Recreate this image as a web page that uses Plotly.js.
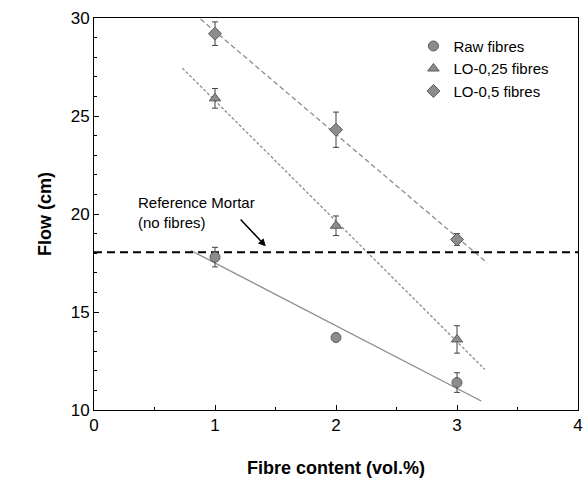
<!DOCTYPE html><html><head><script src="https://cdn.plot.ly/plotly-2.35.2.min.js"></script></head><body style="margin:0">
<div id="c" style="width:584px;height:479px"></div>
<script>
const fibre = [1, 2, 3];
const rawFlow = [17.8, 13.7, 11.4];
const rawErr = [0.5, 0.2, 0.5];
const lo25Flow = [25.9, 19.4, 13.6];
const lo25Err = [0.5, 0.5, 0.7];
const lo5Flow = [29.2, 24.3, 18.7];
const lo5Err = [0.6, 0.9, 0.3];
const refMortar = 18.05;
const fitRanges = {raw: [0.8, 3.2], lo25: [0.73, 3.23], lo5: [0.83, 3.25]};

function fit(x, y, r) {
  const n = x.length, mx = x.reduce((a,b)=>a+b)/n, my = y.reduce((a,b)=>a+b)/n;
  let sxy = 0, sxx = 0;
  for (let i=0;i<n;i++){sxy+=(x[i]-mx)*(y[i]-my);sxx+=(x[i]-mx)**2;}
  const s = sxy/sxx;
  return {x: r, y: r.map(v => my + s*(v-mx))};
}
const mk = (sym) => ({symbol: sym, size: 10, color: '#8c8c8c', line: {color: '#5a5a5a', width: 1}});
const eb = (a) => ({type: 'data', array: a, color: '#404040', thickness: 1, width: 3});
const fr = fit(fibre, rawFlow, fitRanges.raw), f25 = fit(fibre, lo25Flow, fitRanges.lo25), f5 = fit(fibre, lo5Flow, fitRanges.lo5);
const data = [
  {x: fr.x, y: fr.y, mode: 'lines', line: {color: '#8c8c8c', width: 1.3}, showlegend: false},
  {x: f25.x, y: f25.y, mode: 'lines', line: {color: '#8c8c8c', width: 1.3, dash: '3px,2px'}, showlegend: false},
  {x: f5.x, y: f5.y, mode: 'lines', line: {color: '#8c8c8c', width: 1.3, dash: '5px,3px'}, showlegend: false},
  {x: [0, 4], y: [refMortar, refMortar], mode: 'lines', line: {color: '#000', width: 2, dash: '8px,5px'}, showlegend: false},
  {x: fibre, y: rawFlow, mode: 'markers', name: 'Raw fibres', marker: mk('circle'), error_y: eb(rawErr)},
  {x: fibre, y: lo25Flow, mode: 'markers', name: 'LO-0,25 fibres', marker: mk('triangle-up'), error_y: eb(lo25Err)},
  {x: fibre, y: lo5Flow, mode: 'markers', name: 'LO-0,5 fibres', marker: mk('diamond'), error_y: eb(lo5Err)}
];
const ax = {showline: true, linecolor: '#000', linewidth: 1, mirror: true, ticks: 'inside', ticklen: 5, tickcolor: '#000', showgrid: false, zeroline: false, tickfont: {size: 17, color: '#000'}};
const layout = {
  margin: {l: 94, r: 6, t: 18, b: 69},
  paper_bgcolor: '#fff', plot_bgcolor: '#fff',
  font: {family: 'Liberation Sans, Arial, sans-serif', color: '#000'},
  xaxis: Object.assign({}, ax, {range: [0, 4], dtick: 1, minor: {ticks: 'inside', ticklen: 3, tickcolor: '#000', dtick: 0.5}, title: {text: '<b>Fibre content (vol.%)</b>', font: {size: 18}, standoff: 26}}),
  yaxis: Object.assign({}, ax, {range: [10, 30], dtick: 5, minor: {ticks: 'inside', ticklen: 3, tickcolor: '#000', dtick: 1}, title: {text: '<b>Flow (cm)</b>', font: {size: 18}, standoff: 14}}),
  legend: {x: 0.66, y: 0.97, xanchor: 'left', yanchor: 'top', font: {size: 15}, bgcolor: 'rgba(0,0,0,0)', itemwidth: 20, tracegroupgap: 4},
  annotations: [
    {x: 1.42, y: 18.35, ax: 1.2, ay: 19.8, axref: 'x', ayref: 'y', showarrow: true, arrowhead: 2, arrowsize: 1, arrowwidth: 1.5, arrowcolor: '#000', text: ''},
    {x: 0.35, y: 21.1, xanchor: 'left', yanchor: 'top', showarrow: false, align: 'left', text: 'Reference Mortar<br>(no fibres)', font: {size: 15}}
  ]
};
Plotly.newPlot('c', data, layout, {displayModeBar: false});
</script></body></html>
